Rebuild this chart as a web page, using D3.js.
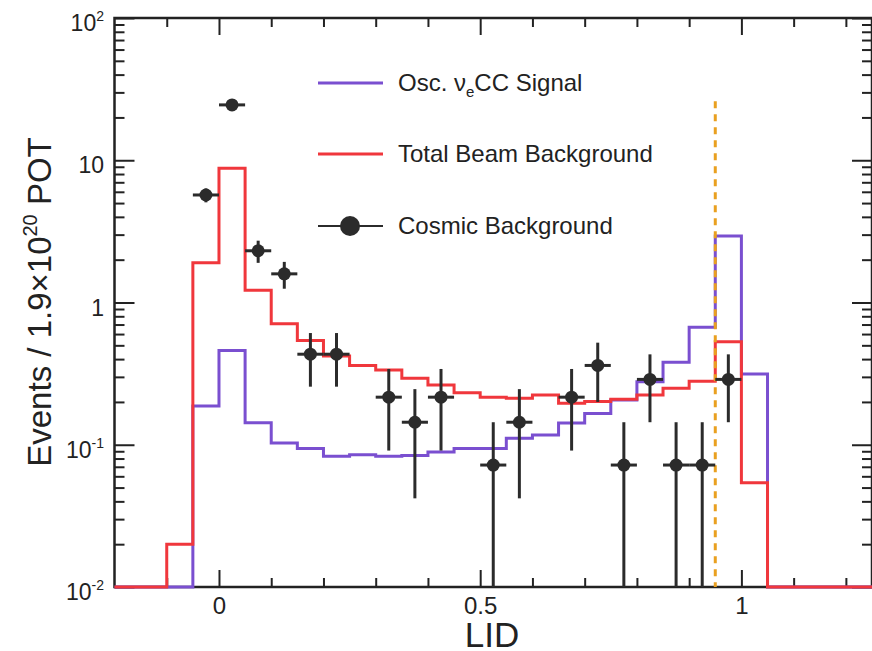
<html>
<head>
<meta charset="utf-8">
<script src="https://d3js.org/d3.v7.min.js"></script>
<style>
  body { margin: 0; background: #fff; }
  text { font-family: "Liberation Sans", Arial, sans-serif; fill: #222; }
  .frame { fill: none; stroke: #222; stroke-width: 2.5px; }
  .axis path { display: none; }
  .axis line { stroke: #222; stroke-width: 2px; }
  .sig { fill: none; stroke: #7a4fd0; stroke-width: 3px; }
  .bkg { fill: none; stroke: #f0373c; stroke-width: 3px; }
  .err { stroke: #2b2b2b; stroke-width: 3px; }
  .dot { fill: #2b2b2b; }
  .cut { stroke: #e9a020; stroke-width: 3px; stroke-dasharray: 7,6; }
</style>
</head>
<body>
<script>
// histogram bins: low edges, width 0.05
var binWidth = 0.05;
var binLow = [-0.2, -0.15, -0.1, -0.05, 0, 0.05, 0.1, 0.15, 0.2, 0.25, 0.3, 0.35, 0.4, 0.45, 0.5,
              0.55, 0.6, 0.65, 0.7, 0.75, 0.8, 0.85, 0.9, 0.95, 1.0, 1.05, 1.1, 1.15, 1.2];
// Osc. nu_e CC signal
var signal = [0, 0, 0, 0.187, 0.46, 0.143, 0.103, 0.094, 0.083, 0.085, 0.083, 0.084, 0.089, 0.094, 0.094,
              0.111, 0.117, 0.142, 0.166, 0.206, 0.277, 0.38, 0.67, 2.93, 0.314, 0, 0, 0, 0];
// total beam background
var beamBkg = [0, 0, 0.02, 1.9, 8.8, 1.22, 0.71, 0.54, 0.42, 0.36, 0.335, 0.293, 0.263, 0.232, 0.216,
               0.212, 0.224, 0.196, 0.201, 0.209, 0.224, 0.25, 0.28, 0.53, 0.054, 0, 0, 0, 0];
// cosmic background points
var cosmicLID = [-0.025, 0.025, 0.075, 0.125, 0.175, 0.225, 0.325, 0.375, 0.425, 0.525, 0.575,
                 0.675, 0.725, 0.775, 0.825, 0.875, 0.925, 0.975];
var cosmic    = [5.7, 24.5, 2.31, 1.59, 0.433, 0.433, 0.216, 0.144, 0.216, 0.072, 0.144,
                 0.216, 0.361, 0.072, 0.288, 0.072, 0.072, 0.288];
var cosmicErr = [0.64, 1.33, 0.41, 0.34, 0.177, 0.177, 0.125, 0.102, 0.125, 0.072, 0.102,
                 0.125, 0.161, 0.072, 0.144, 0.072, 0.072, 0.144];

var xMajor = [0, 0.5, 1];
var xMinor = [-0.1, 0.1, 0.2, 0.3, 0.4, 0.6, 0.7, 0.8, 0.9, 1.1, 1.2];
var yMajor = [0.01, 0.1, 1, 10, 100];
var yLabels = [["10", "-2"], ["10", "-1"], ["1", ""], ["10", ""], ["10", "2"]];
var lidCut = 0.95, cutTop = 26;

var W = 872, H = 651;
var pLeft = 114.5, pRight = 872, pTop = 18, pBottom = 587;

var x = d3.scaleLinear().domain([-0.2, 1.25]).range([pLeft, pRight]);
var y = d3.scaleLog().domain([0.01, 100]).range([pBottom, pTop]);
function yv(v) { return y(Math.max(v, 0.01)); }

var svg = d3.select("body").append("svg")
    .attr("width", W).attr("height", H);

var yMinor = y.ticks().filter(function (t) { return yMajor.indexOf(t) < 0; });

// axes, ticks inward on all four sides
svg.append("g").attr("class", "axis").attr("transform", "translate(0," + pBottom + ")")
    .call(d3.axisBottom(x).tickValues(xMajor).tickSizeInner(-17).tickSizeOuter(0).tickPadding(10)
        .tickFormat(d3.format("")))
    .selectAll("text").style("font-size", "24px");
svg.append("g").attr("class", "axis").attr("transform", "translate(0," + pBottom + ")")
    .call(d3.axisBottom(x).tickValues(xMinor).tickSizeInner(-9).tickSizeOuter(0).tickFormat(""));
svg.append("g").attr("class", "axis").attr("transform", "translate(0," + pTop + ")")
    .call(d3.axisTop(x).tickValues(xMajor).tickSizeInner(-17).tickSizeOuter(0).tickFormat(""));
svg.append("g").attr("class", "axis").attr("transform", "translate(0," + pTop + ")")
    .call(d3.axisTop(x).tickValues(xMinor).tickSizeInner(-9).tickSizeOuter(0).tickFormat(""));

svg.append("g").attr("class", "axis").attr("transform", "translate(" + pLeft + ",0)")
    .call(d3.axisLeft(y).tickValues(yMajor).tickSizeInner(-20).tickSizeOuter(0).tickFormat(""));
svg.append("g").attr("class", "axis").attr("transform", "translate(" + pLeft + ",0)")
    .call(d3.axisLeft(y).tickValues(yMinor).tickSizeInner(-10).tickSizeOuter(0).tickFormat(""));
svg.append("g").attr("class", "axis").attr("transform", "translate(" + pRight + ",0)")
    .call(d3.axisRight(y).tickValues(yMajor).tickSizeInner(-20).tickSizeOuter(0).tickFormat(""));
svg.append("g").attr("class", "axis").attr("transform", "translate(" + pRight + ",0)")
    .call(d3.axisRight(y).tickValues(yMinor).tickSizeInner(-10).tickSizeOuter(0).tickFormat(""));

// log labels with superscripts
yMajor.forEach(function (v, i) {
    var t = svg.append("text")
        .attr("x", 104).attr("y", y(v) + 13)
        .attr("text-anchor", "end")
        .style("font-size", "23px");
    t.append("tspan").text(yLabels[i][0]);
    if (yLabels[i][1]) {
        t.append("tspan").attr("dy", -10).style("font-size", "14px").text(yLabels[i][1]);
    }
});

svg.append("rect").attr("class", "frame")
    .attr("x", pLeft).attr("y", pTop)
    .attr("width", pRight - pLeft).attr("height", pBottom - pTop);

// step histograms
function steps(vals) {
    var pts = binLow.map(function (b, i) { return [b, vals[i]]; });
    pts.push([binLow[binLow.length - 1] + binWidth, vals[vals.length - 1]]);
    return d3.line()
        .x(function (d) { return x(d[0]); })
        .y(function (d) { return yv(d[1]); })
        .curve(d3.curveStepAfter)(pts);
}
svg.append("path").attr("class", "sig").attr("d", steps(signal));
svg.append("path").attr("class", "bkg").attr("d", steps(beamBkg));

// LID cut
svg.append("line").attr("class", "cut")
    .attr("x1", x(lidCut)).attr("x2", x(lidCut))
    .attr("y1", y(cutTop)).attr("y2", pBottom);

// cosmic points with error bars
var pts = svg.append("g");
cosmicLID.forEach(function (c, i) {
    var v = cosmic[i], e = cosmicErr[i];
    pts.append("line").attr("class", "err")
        .attr("x1", x(c)).attr("x2", x(c))
        .attr("y1", yv(v + e)).attr("y2", yv(v - e));
    pts.append("line").attr("class", "err")
        .attr("x1", x(c - binWidth / 2)).attr("x2", x(c + binWidth / 2))
        .attr("y1", y(v)).attr("y2", y(v));
    pts.append("circle").attr("class", "dot")
        .attr("cx", x(c)).attr("cy", y(v)).attr("r", 6.5);
});

// legend
var leg = [
    {cls: "sig", y: 83},
    {cls: "bkg", y: 154},
    {cls: "err", y: 226}
];
leg.forEach(function (l, i) {
    svg.append("line").attr("class", l.cls)
        .attr("x1", 318).attr("x2", 383).attr("y1", l.y).attr("y2", l.y)
        .style("stroke-width", l.cls == "err" ? "2px" : "3px");
    var t = svg.append("text").attr("x", 398).attr("y", l.y + 8).style("font-size", "24px");
    if (i == 0) {
        t.append("tspan").text("Osc. \u03bd");
        t.append("tspan").attr("dy", 6).style("font-size", "15px").text("e");
        t.append("tspan").attr("dy", -6).text("CC Signal");
    } else if (i == 1) {
        t.text("Total Beam Background");
    } else {
        t.text("Cosmic Background");
        svg.append("circle").attr("class", "dot").attr("cx", 350).attr("cy", l.y).attr("r", 10);
    }
});

// axis titles
var yt = svg.append("text")
    .attr("transform", "translate(51,302) rotate(-90)")
    .attr("text-anchor", "middle")
    .style("font-size", "33px");
yt.append("tspan").text("Events / 1.9\u00d710");
yt.append("tspan").attr("dy", -14).style("font-size", "20px").text("20");
yt.append("tspan").attr("dy", 14).text(" POT");

svg.append("text")
    .attr("x", 492).attr("y", 647)
    .attr("text-anchor", "middle")
    .style("font-size", "35px")
    .text("LID");
</script>
</body>
</html>
